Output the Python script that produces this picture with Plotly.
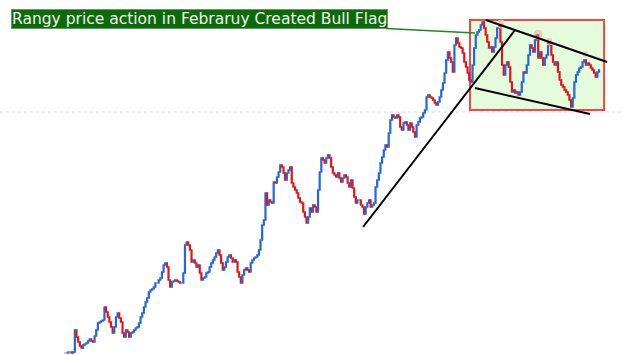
import plotly.graph_objects as go

# Closing prices per bar
close = [
    1147, 1147, 1148, 1148, 1147, 1148,
    1170, 1163, 1158, 1154, 1152, 1155, 1156, 1157, 1159, 1161,
    1159, 1158, 1164, 1170, 1177, 1178, 1179, 1180, 1193, 1188,
    1183, 1178, 1173, 1167, 1173, 1183, 1187, 1182, 1178, 1167,
    1163, 1170, 1168, 1163, 1167, 1168, 1170, 1172, 1173, 1177,
    1183, 1187, 1193, 1198, 1202, 1208, 1210, 1211, 1213, 1217,
    1217, 1220, 1222, 1228, 1235, 1237, 1233, 1220, 1213, 1218,
    1219, 1220, 1219, 1218, 1217, 1217, 1227, 1255, 1258, 1255,
    1250, 1238, 1240, 1237, 1233, 1235, 1227, 1220, 1222, 1223,
    1227, 1228, 1233, 1237, 1240, 1243, 1247, 1250, 1245, 1237,
    1230, 1233, 1238, 1243, 1245, 1242, 1238, 1240, 1238, 1228,
    1223, 1217, 1225, 1230, 1232, 1230, 1228, 1237, 1240, 1242,
    1243, 1245, 1250, 1260, 1275, 1280, 1307, 1295, 1300, 1298,
    1297, 1318, 1317, 1323, 1328, 1335, 1333, 1327, 1320, 1327,
    1330, 1333, 1317, 1313, 1310, 1307, 1302, 1298, 1297, 1288,
    1283, 1277, 1283, 1292, 1288, 1295, 1293, 1288, 1310, 1328,
    1342, 1340, 1337, 1342, 1345, 1342, 1333, 1327, 1325, 1323,
    1327, 1322, 1318, 1322, 1325, 1323, 1317, 1313, 1320, 1312,
    1303, 1297, 1300, 1300, 1295, 1293, 1286, 1293, 1297, 1300,
    1293, 1295, 1297, 1313, 1320, 1327, 1337, 1343, 1350, 1355,
    1353, 1367, 1380, 1385, 1383, 1382, 1385, 1383, 1373, 1370,
    1377, 1378, 1375, 1370, 1377, 1373, 1368, 1363, 1375, 1378,
    1382, 1383, 1387, 1390, 1403, 1405, 1403, 1402, 1400, 1397,
    1395, 1398, 1403, 1410, 1417, 1427, 1440, 1448, 1442, 1438,
    1428, 1455, 1462, 1457, 1453, 1452, 1447, 1438, 1433, 1427,
    1420, 1418, 1435, 1452, 1465, 1468, 1470, 1475, 1478, 1472,
    1465, 1458, 1452, 1453, 1448, 1453, 1462, 1472, 1475, 1458,
    1435, 1425, 1435, 1438, 1433, 1418, 1408, 1410, 1407, 1408,
    1405, 1408, 1418, 1428, 1427, 1435, 1445, 1455, 1452, 1448,
    1460, 1465, 1442, 1448, 1442, 1435, 1442, 1445, 1458, 1455,
    1445, 1438, 1435, 1438, 1428, 1420, 1415, 1413, 1410, 1408,
    1405, 1400, 1393, 1402, 1418, 1425, 1428, 1432, 1433, 1438,
    1440, 1435, 1437, 1435, 1432, 1430, 1427, 1423, 1428, 1430,
]
bars = list(range(len(close)))

# Trend lines: (bar, price) anchor pairs
uptrend = [(181.4, 1273), (273.9, 1470)]
flag_top = [(256.2, 1480), (329.9, 1438)]
flag_bottom = [(249.5, 1412), (319.5, 1386)]
flag_box = [(246.5, 1390), (328.1, 1480)]
peak_bars = [265.4, 287.9, 294.6, 316.5]
peak_prices = [1476, 1466, 1459, 1446]
peak_sizes = [8, 10, 8, 7]
dotted_level = 1388
label = "Rangy price action in Febraruy Created Bull Flag"
label_target = (249.5, 1467)
label_center = (81.6, 1481)

opens = [close[0]] + close[:-1]
highs = [max(o, c) for o, c in zip(opens, close)]
lows = [min(o, c) for o, c in zip(opens, close)]

W, H = 623, 355
ppb = 534 / (len(close) - 1)
x0 = -65 / ppb
x1 = x0 + W / ppb

fig = go.Figure()

fig.add_shape(type="rect", x0=flag_box[0][0], x1=flag_box[1][0],
              y0=flag_box[0][1], y1=flag_box[1][1],
              fillcolor="#e4fbdc", line=dict(color="#f04848", width=2), layer="below")
fig.add_shape(type="line", xref="paper", x0=0, x1=1, y0=dotted_level, y1=dotted_level,
              line=dict(color="#d8d8d8", width=1, dash="dot"), layer="below")

fig.add_trace(go.Scatter(x=peak_bars, y=peak_prices, mode="markers",
                         marker=dict(size=peak_sizes, color="rgba(240,150,120,0.6)"),
                         hoverinfo="skip", showlegend=False))

fig.add_trace(go.Candlestick(
    x=bars, open=opens, high=highs, low=lows, close=close,
    increasing=dict(line=dict(color="#2468d8", width=1.4), fillcolor="#2468d8"),
    decreasing=dict(line=dict(color="#e3141c", width=1.4), fillcolor="#e3141c"),
    hoverinfo="skip", showlegend=False))

for seg in (uptrend, flag_top, flag_bottom):
    fig.add_trace(go.Scatter(x=[seg[0][0], seg[1][0]], y=[seg[0][1], seg[1][1]],
                             mode="lines", line=dict(color="black", width=2),
                             hoverinfo="skip", showlegend=False))

fig.add_annotation(x=label_target[0], y=label_target[1], ax=label_center[0], ay=label_center[1],
                   axref="x", ayref="y", text=label, showarrow=True, arrowhead=0,
                   arrowcolor="#1a8a1a", arrowwidth=1.5,
                   font=dict(family="DejaVu Sans", size=15.5, color="#f2f2e8"),
                   bgcolor="#0b6b0b", bordercolor="#6a946a", borderwidth=1, borderpad=0)

fig.update_layout(
    width=W, height=H, margin=dict(l=0, r=0, t=0, b=0),
    paper_bgcolor="white", plot_bgcolor="white", showlegend=False,
    xaxis=dict(range=[x0, x1], visible=False, rangeslider=dict(visible=False)),
    yaxis=dict(range=[1500 - H, 1500], visible=False),
)

fig.write_html("out.html", config={"displayModeBar": False},
               post_script="document.body.style.margin='0';")
